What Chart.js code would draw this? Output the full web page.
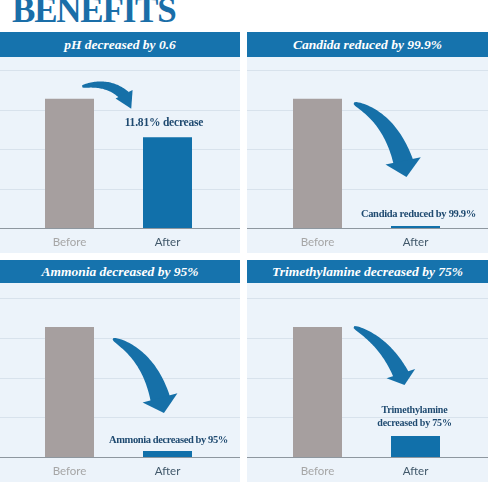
<!DOCTYPE html>
<html><head><meta charset="utf-8">
<script src="https://cdn.jsdelivr.net/npm/chart.js@4.4.1/dist/chart.umd.min.js"></script>
<style>
html,body{margin:0;padding:0;background:#fff;width:488px;height:482px;overflow:hidden;position:relative;}
#title{position:absolute;left:12px;top:-7px;font:bold 35px "Liberation Serif",serif;color:#1a6ea8;line-height:35px;letter-spacing:-1.2px;white-space:nowrap;}
.hdr{position:absolute;background:#1673ad;color:#fff;font:italic bold 13.5px "Liberation Serif",serif;text-align:center;white-space:nowrap;}
.panel{position:absolute;background:#ecf3fa;}
.panel canvas{display:block;}
</style>
</head><body>
<div id="title">BENEFITS</div>
<div class="hdr" id="h0" style="left:0;top:32px;width:240px;height:25px;line-height:25px;"></div>
<div class="hdr" id="h1" style="left:247px;top:32px;width:241px;height:25px;line-height:25px;"></div>
<div class="hdr" id="h2" style="left:0;top:260px;width:240px;height:23px;line-height:23px;"></div>
<div class="hdr" id="h3" style="left:247px;top:260px;width:241px;height:23px;line-height:23px;"></div>
<div class="panel" style="left:0;top:57px;width:240px;height:196px;"><canvas id="c0" width="240" height="196"></canvas></div>
<div class="panel" style="left:247px;top:57px;width:241px;height:196px;"><canvas id="c1" width="241" height="196"></canvas></div>
<div class="panel" style="left:0;top:283px;width:240px;height:199px;"><canvas id="c2" width="240" height="199"></canvas></div>
<div class="panel" style="left:247px;top:283px;width:241px;height:199px;"><canvas id="c3" width="241" height="199"></canvas></div>
<script>
// ---- data ----
const categories = ['Before', 'After'];
const phValues = [3.27, 2.30];
const candidaValues = [3.27, 0.05];
const ammoniaValues = [3.27, 0.15];
const trimethylamineValues = [3.27, 0.53];
const panelTitles = ['pH decreased by 0.6', 'Candida reduced by 99.9%', 'Ammonia decreased by 95%', 'Trimethylamine decreased by 75%'];
const phNote = ['11.81% decrease'];
const candidaNote = ['Candida reduced by 99.9%'];
const ammoniaNote = ['Ammonia decreased by 95%'];
const trimethylamineNote = ['Trimethylamine', 'decreased by 75%'];
const gridValues = [0, 1, 2, 3, 4];

panelTitles.forEach((t, i) => { document.getElementById('h' + i).textContent = t; });

const GRAY = '#a69f9f', BLUE = '#1170aa', ARROW = '#1670a8';

// full-width grid lines drawn from the y scale
const gridPlugin = {
  id: 'fullGrid',
  beforeDatasetsDraw(chart) {
    const ctx = chart.ctx, y = chart.scales.y, w = chart.width;
    ctx.save();
    gridValues.forEach(v => {
      const py = Math.round(y.getPixelForValue(v)) + 0.5;
      ctx.strokeStyle = v === 0 ? '#8e979f' : '#d8e2ec';
      ctx.lineWidth = 1;
      ctx.beginPath(); ctx.moveTo(0, py); ctx.lineTo(w, py); ctx.stroke();
    });
    ctx.restore();
  }
};

function toPx(chart, u, v) {
  const x = chart.scales.x, y = chart.scales.y;
  const x0 = x.getPixelForValue(0), x1 = x.getPixelForValue(1);
  return [x0 + u * (x1 - x0), y.getPixelForValue(v)];
}

const decoPlugin = {
  id: 'deco',
  afterDatasetsDraw(chart, args, o) {
    const ctx = chart.ctx;
    ctx.save();
    if (o.arrow) {
      const a = o.arrow;
      const P0 = toPx(chart, a.tail[0], a.tail[1]);
      const C = toPx(chart, a.ctrl[0], a.ctrl[1]);
      const P1 = toPx(chart, a.end[0], a.end[1]);
      const TP = toPx(chart, a.tip[0], a.tip[1]);
      const left = [], right = [];
      const N = 40;
      for (let i = 0; i <= N; i++) {
        const t = i / N, mt = 1 - t;
        const px = mt*mt*P0[0] + 2*mt*t*C[0] + t*t*P1[0];
        const py = mt*mt*P0[1] + 2*mt*t*C[1] + t*t*P1[1];
        let tx = 2*mt*(C[0]-P0[0]) + 2*t*(P1[0]-C[0]);
        let ty = 2*mt*(C[1]-P0[1]) + 2*t*(P1[1]-C[1]);
        const l = Math.hypot(tx, ty) || 1; tx /= l; ty /= l;
        const nx = -ty, ny = tx;
        const w = (a.w0 + (a.w1 - a.w0) * Math.pow(t, 0.6)) / 2;
        left.push([px + nx*w, py + ny*w]);
        right.push([px - nx*w, py - ny*w]);
      }
      ctx.fillStyle = ARROW;
      ctx.beginPath();
      left.forEach((p, i) => i ? ctx.lineTo(p[0], p[1]) : ctx.moveTo(p[0], p[1]));
      for (let i = right.length - 1; i >= 0; i--) ctx.lineTo(right[i][0], right[i][1]);
      ctx.closePath(); ctx.fill();
      let dx = TP[0]-P1[0], dy = TP[1]-P1[1];
      const dl = Math.hypot(dx, dy); dx /= dl; dy /= dl;
      const bx = P1[0] - dx*2, by = P1[1] - dy*2;
      ctx.beginPath();
      ctx.moveTo(bx - dy*a.hw, by + dx*a.hw);
      ctx.lineTo(TP[0], TP[1]);
      ctx.lineTo(bx + dy*a.hw, by - dx*a.hw);
      ctx.closePath(); ctx.fill();
    }
    if (o.note) {
      const n = o.note;
      const [x, y] = toPx(chart, n.at[0], n.at[1]);
      ctx.fillStyle = '#1f4a70';
      ctx.font = 'bold ' + n.size + 'px "Liberation Serif", serif';
      if ('letterSpacing' in ctx) ctx.letterSpacing = n.ls + 'px';
      ctx.textAlign = 'center'; ctx.textBaseline = 'middle';
      n.lines.forEach((s, i) => ctx.fillText(s, x, y + (i - (n.lines.length - 1) / 2) * n.lh));
    }
    ctx.restore();
  }
};

function makeChart(id, values, padL, padR, padT, deco) {
  return new Chart(document.getElementById(id), {
    type: 'bar',
    data: { labels: categories, datasets: [{ data: values, backgroundColor: [GRAY, BLUE], borderWidth: 0, barPercentage: 0.5, categoryPercentage: 1 }] },
    options: {
      responsive: false, animation: false, devicePixelRatio: 1,
      layout: { padding: { left: padL, right: padR, top: padT, bottom: 5 } },
      plugins: { legend: { display: false }, tooltip: { enabled: false }, deco: deco },
      scales: {
        x: {
          grid: { display: false, drawTicks: false }, border: { display: false },
          ticks: { padding: 7, font: { family: 'Lato', size: 11.5 }, color: c => c.index === 0 ? '#a6a6a6' : '#41586a' },
          afterFit: s => { s.height = 20; }
        },
        y: { display: false, min: 0, max: 4 }
      }
    },
    plugins: [gridPlugin, decoPlugin]
  });
}

makeChart('c0', phValues, 20.5, 23.5, 13, {
  arrow: { tail: [0.13, 3.58], ctrl: [0.40, 3.74], end: [0.566, 3.34], tip: [0.63, 3.02], w0: 2, w1: 11, hw: 9.5 },
  note: { at: [0.964, 2.66], lines: phNote, size: 11.5, ls: -0.2, lh: 13 }
});
makeChart('c1', candidaValues, 21.5, 23.5, 13, {
  arrow: { tail: [0.372, 3.16], ctrl: [0.740, 2.80], end: [0.878, 1.65], tip: [0.908, 1.29], w0: 2, w1: 20, hw: 18 },
  note: { at: [1.03, 0.35], lines: candidaNote, size: 10.5, ls: -0.3, lh: 13 }
});
makeChart('c2', ammoniaValues, 20.5, 23.5, 15, {
  arrow: { tail: [0.444, 2.97], ctrl: [0.811, 2.57], end: [0.929, 1.44], tip: [0.964, 1.11], w0: 2, w1: 20, hw: 18 },
  note: { at: [1.01, 0.43], lines: ammoniaNote, size: 10.5, ls: -0.4, lh: 13 }
});
makeChart('c3', trimethylamineValues, 21.5, 23.5, 15, {
  arrow: { tail: [0.372, 3.27], ctrl: [0.689, 2.91], end: [0.857, 2.05], tip: [0.888, 1.81], w0: 2, w1: 16, hw: 15 },
  note: { at: [0.99, 1.02], lines: trimethylamineNote, size: 10, ls: -0.2, lh: 13 }
});
</script>
</body></html>
